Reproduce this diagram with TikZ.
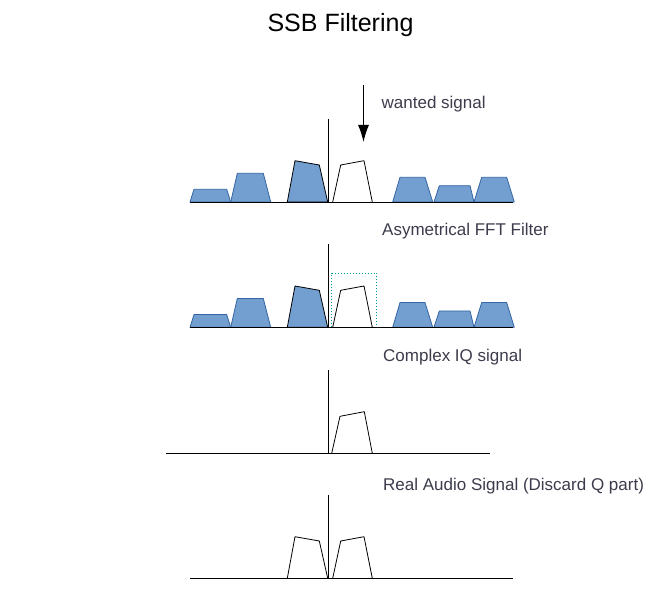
\documentclass[tikz,border=0pt]{standalone}
\usepackage{fontspec}
\setmainfont{Liberation Sans}
\usetikzlibrary{arrows.meta}
\begin{document}
\begin{tikzpicture}[x=1pt,y=-1pt,
  band/.style={fill=bandfill,draw=bandline,line width=0.8pt,line join=round},
  bandk/.style={fill=bandfill,draw=black,line width=0.8pt,line join=round},
  wband/.style={fill=white,draw=black,line width=0.8pt,line join=round},
  axisline/.style={draw=black,line width=0.9pt},
  lbl/.style={anchor=base west,inner sep=0pt,text=lblcol,font=\fontsize{17}{20}\selectfont},
  filt/.style={draw=filtcol,line width=0.9pt,dash pattern=on 1.2pt off 1.8pt}]
\definecolor{bandfill}{HTML}{729FCF}
\definecolor{bandline}{HTML}{3465A4}
\definecolor{lblcol}{HTML}{3C3C4C}
\definecolor{filtcol}{HTML}{009999}
\useasboundingbox[fill=white] (0,0) rectangle (651,609);

\node[anchor=base,inner sep=0pt,font=\fontsize{25}{29}\selectfont] (title) at (340.5,32) {SSB Filtering};

% ---------- panel 1 ----------
\begin{scope}
\draw[band] (190,202) -- (194,189.3) -- (226.7,189.3) -- (230.7,202) -- cycle;
\draw[band] (230.7,202) -- (237.3,173.3) -- (263.3,173.3) -- (270.7,202) -- cycle;
\draw[bandk] (287.3,202) -- (295,160.7) -- (319.3,165) -- (327.7,202) -- cycle;
\draw[wband] (332.7,202) -- (340.7,165) -- (364,160.7) -- (372.3,202);
\draw[band] (392.7,202) -- (400,177.3) -- (425,177.3) -- (432.7,202) -- cycle;
\draw[band] (434,202) -- (439.3,185.7) -- (470,185.7) -- (474,202) -- cycle;
\draw[band] (474,202) -- (481.7,177.3) -- (506.7,177.3) -- (514.3,202) -- cycle;
\coordinate (b1l) at (190,202);
\coordinate (b1r) at (513,202);
\coordinate (a1b) at (328.3,202);
\coordinate (a1t) at (328.3,119);
\draw[axisline] (b1l) -- (b1r);
\draw[axisline] (a1b) -- (a1t);
\coordinate (arrs) at (363.5,85);
\coordinate (arre) at (363.5,142);
\draw[line width=1pt,-{Latex[length=17pt,width=11pt]}] (arrs) -- (arre);
\node[lbl] (l1) at (381.5,109) {wanted signal};
\end{scope}

% ---------- panel 2 ----------
\begin{scope}[yshift=-125.3pt]
\draw[band] (190,202) -- (194,189.3) -- (226.7,189.3) -- (230.7,202) -- cycle;
\draw[band] (230.7,202) -- (237.3,173.3) -- (263.3,173.3) -- (270.7,202) -- cycle;
\draw[bandk] (287.3,202) -- (295,160.7) -- (319.3,165) -- (327.7,202) -- cycle;
\draw[wband] (332.7,202) -- (340.7,165) -- (364,160.7) -- (372.3,202);
\draw[band] (392.7,202) -- (400,177.3) -- (425,177.3) -- (432.7,202) -- cycle;
\draw[band] (434,202) -- (439.3,185.7) -- (470,185.7) -- (474,202) -- cycle;
\draw[band] (474,202) -- (481.7,177.3) -- (506.7,177.3) -- (514.3,202) -- cycle;
\draw[filt] (331.7,202) -- (331.7,148) -- (376.7,148) -- (376.7,202);
\coordinate (b2l) at (190,202);
\coordinate (b2r) at (513,202);
\coordinate (a2b) at (328.3,202);
\coordinate (a2t) at (328.3,119);
\draw[axisline] (b2l) -- (b2r);
\draw[axisline] (a2b) -- (a2t);
\end{scope}
\node[lbl] (l2) at (382,235.5) {Asymetrical FFT Filter};

% ---------- panel 3 ----------
\coordinate (b3l) at (166,453.3);
\coordinate (b3r) at (490,453.3);
\coordinate (a3b) at (328.3,453.3);
\coordinate (a3t) at (328.3,370);
\draw[wband] (331.7,453.3) -- (340,416.3) -- (364.3,411.7) -- (372.3,453.3);
\draw[axisline] (b3l) -- (b3r);
\draw[axisline] (a3b) -- (a3t);
\node[lbl] (l3) at (383,361.7) {Complex IQ signal};

% ---------- panel 4 ----------
\draw[wband] (287.3,578.3) -- (295,536.7) -- (319.3,541) -- (327.7,578.3);
\draw[wband] (332.7,578.3) -- (340.7,541) -- (364,536.7) -- (372.3,578.3);
\coordinate (b4l) at (190,578.3);
\coordinate (b4r) at (513.3,578.3);
\coordinate (a4b) at (328.3,578.3);
\coordinate (a4t) at (328.3,495);
\draw[axisline] (b4l) -- (b4r);
\draw[axisline] (a4b) -- (a4t);
\node[lbl] (l4) at (383,490) {Real Audio Signal (Discard Q part)};
\end{tikzpicture}
\end{document}
